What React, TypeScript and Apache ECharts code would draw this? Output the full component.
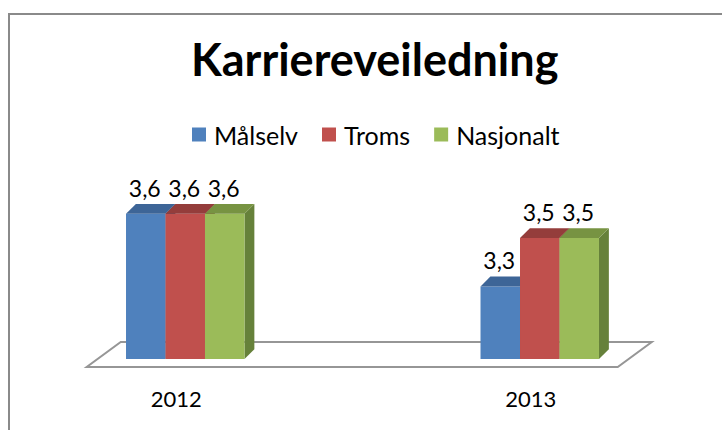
import React, { useEffect, useRef } from "react";
import * as echarts from "echarts";

const categories = ["2012", "2013"];
const seriesNames = ["Målselv", "Troms", "Nasjonalt"];
const malselv = [3.6, 3.3];
const troms = [3.6, 3.5];
const nasjonalt = [3.6, 3.5];
const Y_MIN = 3;
const Y_MAX = 3.8;

const FRONT = ["#4f81bd", "#c0504d", "#9bbb59"];
const TOP = ["#3d6597", "#943d3b", "#779342"];
const SIDE = ["#35567f", "#833632", "#66813a"];
const FONT = "Lato";

const fmt = (v: number) => v.toFixed(1).replace(".", ",");

function makeRender(idx: number) {
  return (params: any, api: any) => {
    const cat = api.value(0);
    const val = api.value(1);
    const base = api.coord([cat, Y_MIN]);
    const top = api.coord([cat, val]);
    const band = api.size([1, 0])[0];
    const bw = band * 0.1114;
    const d = bw * 0.25;
    const x0 = base[0] + (idx - 1.5) * bw;
    const x1 = x0 + bw;
    const yb = base[1];
    const yt = top[1];
    return {
      type: "group",
      children: [
        {
          type: "polygon",
          shape: { points: [[x1, yt], [x1 + d, yt - d], [x1 + d, yb - d], [x1, yb]] },
          style: { fill: SIDE[idx] },
        },
        {
          type: "rect",
          shape: { x: x0, y: yt, width: bw, height: yb - yt },
          style: { fill: FRONT[idx] },
        },
        {
          type: "polygon",
          shape: { points: [[x0, yt], [x1, yt], [x1 + d, yt - d], [x0 + d, yt - d]] },
          style: { fill: TOP[idx] },
        },
        {
          type: "text",
          style: {
            text: fmt(val),
            x: (x0 + x1) / 2 - 1,
            y: yt - 26,
            align: "center",
            verticalAlign: "middle",
            fontFamily: FONT,
            fontSize: 23,
            fill: "#000",
          },
        },
      ],
    };
  };
}

function floorRender(params: any, api: any) {
  const c0 = api.coord([0, Y_MIN]);
  const c1 = api.coord([1, Y_MIN]);
  const band = api.size([1, 0])[0];
  const y0 = c0[1];
  return {
    type: "polygon",
    shape: {
      points: [
        [c0[0] - 0.278 * band, y0 + 8],
        [c1[0] + 0.22 * band, y0 + 8],
        [c1[0] + 0.316 * band, y0 - 17],
        [c0[0] - 0.182 * band, y0 - 17],
      ],
    },
    style: { fill: "#ffffff", stroke: "#969696", lineWidth: 2 },
  };
}

export default function App() {
  const ref = useRef<HTMLDivElement>(null);
  useEffect(() => {
    if (!ref.current) return;
    const chart = echarts.init(ref.current, undefined, { renderer: "svg" });
    const values = [malselv, troms, nasjonalt];
    chart.setOption({
      animation: false,
      backgroundColor: "#ffffff",
      title: {
        text: "Karriereveiledning",
        left: 186,
        top: 31,
        textStyle: { fontFamily: FONT, fontSize: 45, fontWeight: "bold", color: "#000" },
      },
      legend: {
        data: seriesNames,
        top: 117,
        left: 187,
        icon: "rect",
        itemWidth: 14,
        itemHeight: 14,
        itemGap: 24,
        textStyle: { fontFamily: FONT, fontSize: 25, color: "#000", padding: [0, 0, 0, 3] },
      },
      graphic: [
        {
          type: "rect",
          shape: { x: 9, y: 14, width: 800, height: 600 },
          style: { fill: "none", stroke: "#8a8a8a", lineWidth: 2 },
          silent: true,
          z: 100,
        },
      ],
      grid: { left: 8, right: 5, top: 165.4, bottom: 71 },
      xAxis: {
        type: "category",
        data: categories,
        axisLine: { show: false },
        axisTick: { show: false },
        splitLine: { show: false },
        axisLabel: {
          fontFamily: FONT,
          fontSize: 22,
          color: "#000",
          margin: 28,
          padding: [0, 18, 0, 0],
        },
      },
      yAxis: { type: "value", min: Y_MIN, max: Y_MAX, show: false },
      series: [
        {
          type: "custom",
          name: "floor",
          renderItem: floorRender,
          data: [[0, Y_MIN]],
          encode: { x: 0, y: 1 },
          silent: true,
          z: 1,
        },
        ...seriesNames.map((name, i) => ({
          type: "custom",
          name,
          renderItem: makeRender(i),
          itemStyle: { color: FRONT[i] },
          data: values[i].map((v, j) => [j, v]),
          encode: { x: 0, y: 1 },
          z: 2 + i,
        })),
      ],
    });
    return () => chart.dispose();
  }, []);
  return (
    <div
      ref={ref}
      style={{ position: "fixed", left: 0, top: 0, width: 722, height: 430 }}
    />
  );
}
